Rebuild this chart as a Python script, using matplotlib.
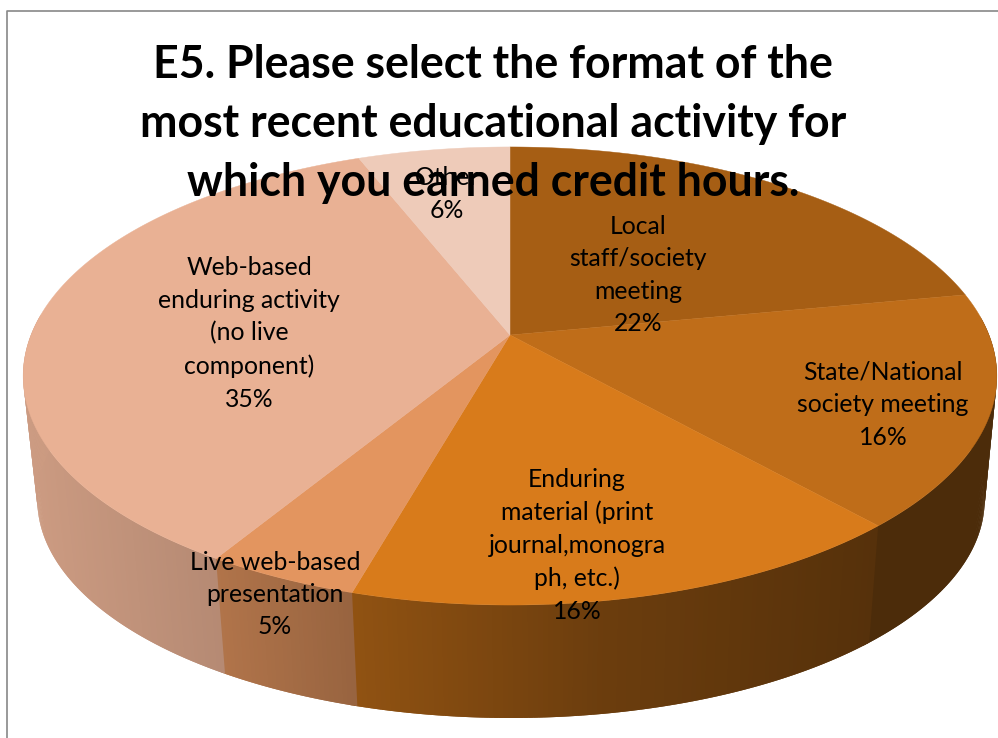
import numpy as np
import matplotlib
matplotlib.use('Agg')
import matplotlib.pyplot as plt
from matplotlib.collections import PolyCollection

plt.rcParams['font.family'] = ['Lato', 'DejaVu Sans']

title = "E5. Please select the format of the\nmost recent educational activity for\nwhich you earned credit hours."
categories = ["Local\nstaff/society\nmeeting", "State/National\nsociety meeting",
              "Enduring\nmaterial (print\njournal,monogra\nph, etc.)",
              "Live web-based\npresentation",
              "Web-based\nenduring activity\n(no live\ncomponent)", "Other"]
# slice sizes, the labels carry the rounded numbers
values = [22.0, 16.4, 16.0, 4.3, 35.3, 6.0]
percent_labels = ["22%", "16%", "16%", "5%", "35%", "6%"]
colors = ['#A65E14', '#BF6D19', '#D87B1B', '#E3955F', '#E9B194', '#EECBB9']

label_pos = [(638, 275), (883, 405), (577, 545.5), (275, 594.5), (249, 333.5), (447, 194)]

TOP = dict(cx=510, cy=335, a=221.7, b=479)
BOT = dict(cx=511, cy=461, a=211, b=466)
K = 0.179


def project(theta, s):
    # clockwise from 12 o'clock on the unit disc, then a simple perspective
    u, v = np.sin(theta), np.cos(theta)
    w = 1 + K * v
    return s['cx'] + s['b'] * u / w, s['cy'] - s['a'] * v / w


def shade(hex_color, f):
    return tuple(c * f for c in matplotlib.colors.to_rgb(hex_color))


fig = plt.figure(figsize=(9.98, 7.38), dpi=100)
ax = fig.add_axes([0, 0, 1, 1])
ax.set_xlim(0, 998)
ax.set_ylim(738, 0)
ax.axis('off')

edges = np.radians(np.cumsum([0] + values) / sum(values) * 360)

# side wall, thin quads that overlap the next one so no seams show
step = np.radians(0.5)
polys, cols = [], []
for i in range(len(values)):
    th = np.arange(edges[i], edges[i + 1], step)
    for t0 in th:
        t1 = min(t0 + 2 * step, edges[-1])
        if np.cos(t0 + step / 2) > 0.08:
            continue
        x0, y0 = project(t0, TOP)
        x1, y1 = project(t1, TOP)
        x2, y2 = project(t1, BOT)
        x3, y3 = project(t0, BOT)
        polys.append([(x0, y0), (x1, y1), (x2, y2), (x3, y3)])
        f = np.interp((x0 + x3) / 2, [25, 220, 355, 600, 870, 1000],
                      [0.88, 0.78, 0.67, 0.50, 0.40, 0.40])
        cols.append(shade(colors[i], f))
ax.add_collection(PolyCollection(polys, facecolors=cols, edgecolors='none', linewidths=0))

# top face
for i, col in enumerate(colors):
    th = np.linspace(edges[i], edges[i + 1], 200)
    x, y = project(th, TOP)
    ax.fill(np.r_[TOP['cx'], x], np.r_[TOP['cy'], y], color=col, lw=0.3)

for cat, pct, (x, y) in zip(categories, percent_labels, label_pos):
    ax.text(x, y, cat + "\n" + pct, ha='center', va='center', fontsize=17.8,
            color='black', linespacing=1.5)

ax.text(493, 124, title, ha='center', va='center', fontsize=32.1, fontweight='bold',
        color='black', linespacing=1.5)

ax.plot([7, 7, 998], [738, 11, 11], color='#888888', lw=1.2)

fig.savefig('out.png', dpi=100)
